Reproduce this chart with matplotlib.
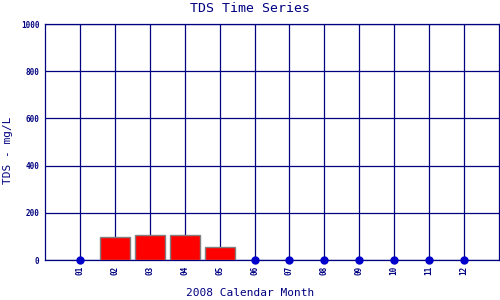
import matplotlib
matplotlib.use("Agg")
import matplotlib.pyplot as plt

# Daten
months = [1, 2, 3, 4, 5, 6, 7, 8, 9, 10, 11, 12]
month_labels = ["01", "02", "03", "04", "05", "06", "07", "08", "09", "10", "11", "12"]
tds = [0, 96, 105, 105, 54, 0, 0, 0, 0, 0, 0, 0]
y_ticks = [0, 200, 400, 600, 800, 1000]

navy = "#000080"
plt.rcParams["font.family"] = ["DejaVu Sans Mono"]

fig = plt.figure(figsize=(5, 3), dpi=100)
ax = fig.add_axes([0.09, 0.1333, 0.908, 0.7867])

bar_x = [m for m, v in zip(months, tds) if v > 0]
bar_v = [v for v in tds if v > 0]
dot_x = [m for m, v in zip(months, tds) if v == 0]
dot_v = [v for v in tds if v == 0]

ax.bar(bar_x, bar_v, width=0.86, color="red", edgecolor="#808080", linewidth=1, zorder=3)
ax.plot(dot_x, dot_v, "o", color="#0000CC", markersize=5, clip_on=False, zorder=4)

ax.set_xlim(0, 13)
ax.set_ylim(0, 1000)
ax.set_xticks(months)
ax.set_xticklabels(month_labels, rotation=90, fontsize=5.5, fontweight="bold", color=navy)
ax.set_yticks(y_ticks)
ax.set_yticklabels([str(t) for t in y_ticks], fontsize=5.5, fontweight="bold", color=navy)
ax.tick_params(length=0, pad=4)

ax.grid(True, color=navy, linewidth=0.9, zorder=0)
ax.set_axisbelow(True)
for s in ax.spines.values():
    s.set_color(navy)
    s.set_linewidth(0.9)

# Beschriftungen
fig.text(0.5, 0.97, "TDS Time Series", fontsize=9.5, color=navy, ha="center", va="center")
fig.text(0.5, 0.023, "2008 Calendar Month", fontsize=8, color=navy, ha="center", va="center")
fig.text(0.016, 0.5, "TDS - mg/L", fontsize=8, color=navy, ha="center", va="center", rotation=90)

fig.savefig("out.png", dpi=100)
